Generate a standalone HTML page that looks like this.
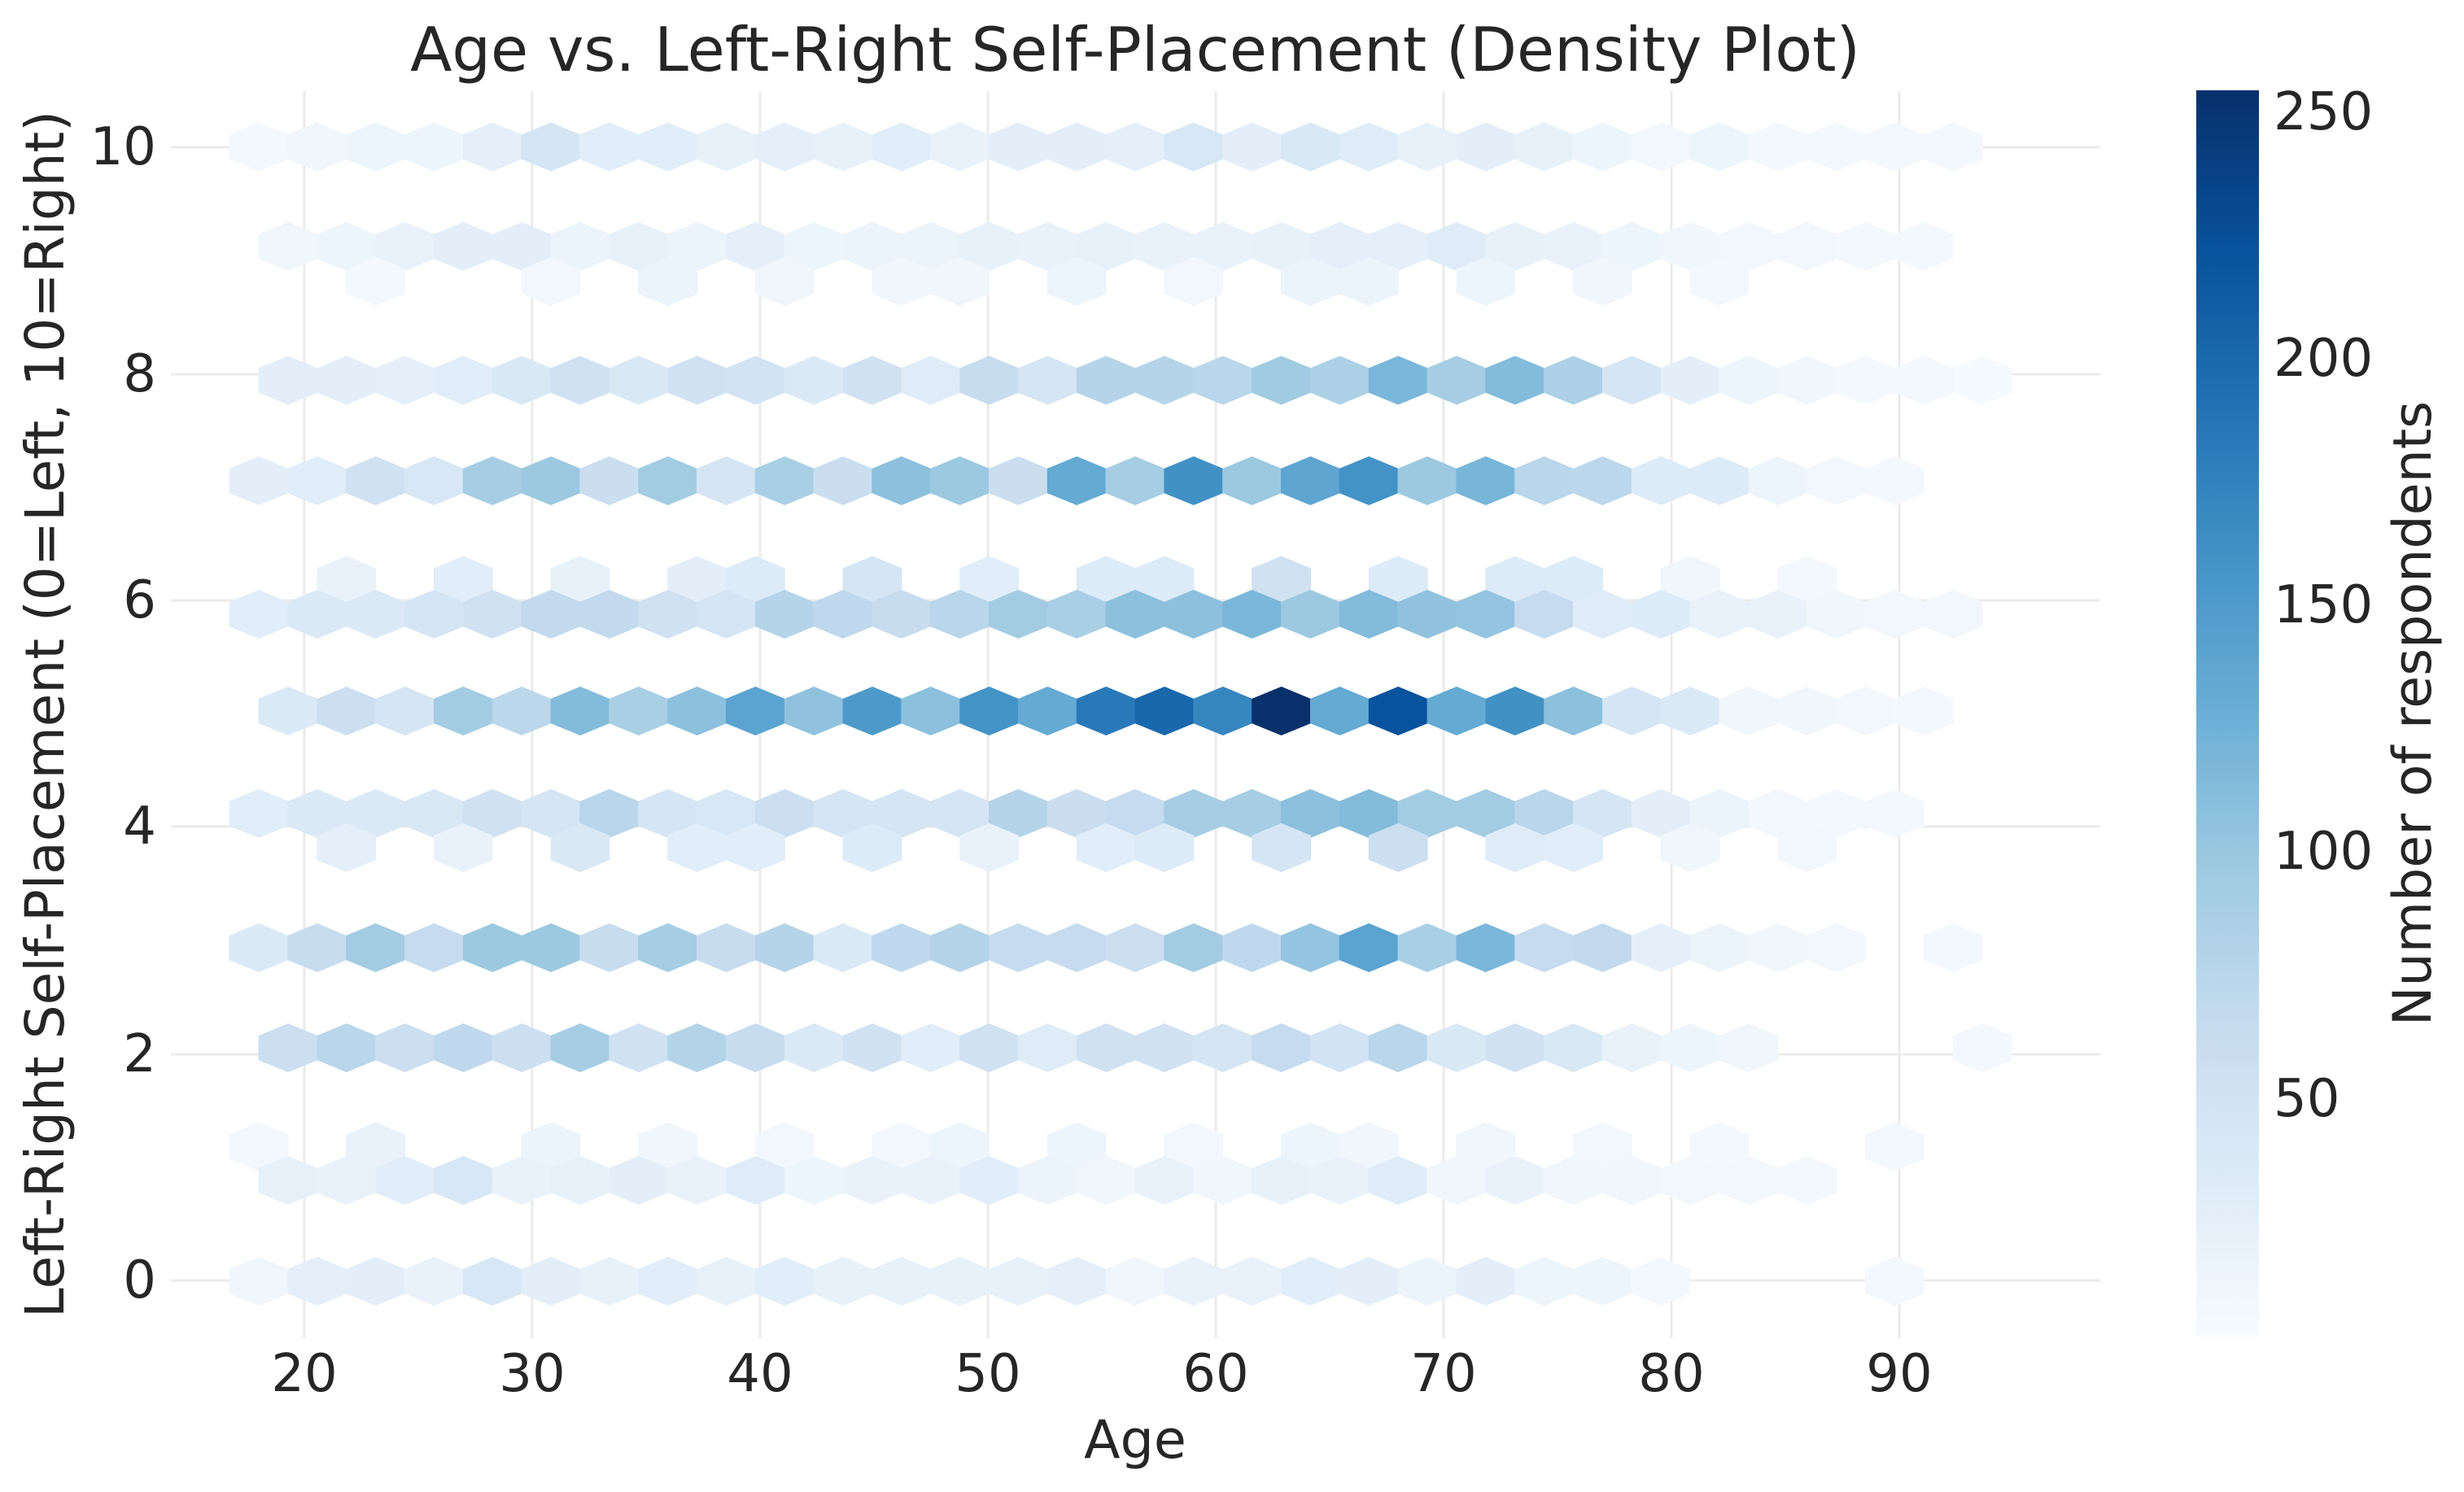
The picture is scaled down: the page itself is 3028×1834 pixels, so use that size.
<!DOCTYPE html>
<html><head><meta charset="utf-8"><style>
html,body{margin:0;padding:0;background:#fff;}
svg{display:block;}
text{font-family:"DejaVu Sans","Liberation Sans",sans-serif;fill:#262626;}
</style></head><body>
<svg id="s" width="3028" height="1834" viewBox="0 0 3028 1834" xmlns="http://www.w3.org/2000/svg">
<defs>
<linearGradient id="cb" x1="0" y1="1" x2="0" y2="0">
<stop offset="0" stop-color="#f7fbff"/><stop offset="0.125" stop-color="#deebf7"/><stop offset="0.25" stop-color="#c6dbef"/><stop offset="0.375" stop-color="#9ecae1"/><stop offset="0.5" stop-color="#6baed6"/><stop offset="0.625" stop-color="#4292c6"/><stop offset="0.75" stop-color="#2171b5"/><stop offset="0.875" stop-color="#08519c"/><stop offset="1" stop-color="#08306b"/>
</linearGradient>
</defs>
<rect width="3028" height="1834" fill="#fff"/>
<g stroke="#ebebeb" stroke-width="3">
<line x1="374" y1="112" x2="374" y2="1645"/><line x1="654" y1="112" x2="654" y2="1645"/><line x1="934" y1="112" x2="934" y2="1645"/><line x1="1214" y1="112" x2="1214" y2="1645"/><line x1="1494" y1="112" x2="1494" y2="1645"/><line x1="1774" y1="112" x2="1774" y2="1645"/><line x1="2054" y1="112" x2="2054" y2="1645"/><line x1="2334" y1="112" x2="2334" y2="1645"/>
<line x1="210" y1="181" x2="2581" y2="181"/><line x1="210" y1="460" x2="2581" y2="460"/><line x1="210" y1="738" x2="2581" y2="738"/><line x1="210" y1="1016" x2="2581" y2="1016"/><line x1="210" y1="1296" x2="2581" y2="1296"/><line x1="210" y1="1574" x2="2581" y2="1574"/>
</g>
<g id="hex"></g>
<text x="1395" y="87" font-size="75" text-anchor="middle">Age vs. Left-Right Self-Placement (Density Plot)</text>
<g font-size="64" text-anchor="end" dominant-baseline="central">
<text x="192" y="181">10</text><text x="192" y="460">8</text><text x="192" y="738">6</text><text x="192" y="1016">4</text><text x="192" y="1296">2</text><text x="192" y="1574">0</text>
</g>
<g font-size="64" text-anchor="middle">
<text x="374" y="1710">20</text><text x="654" y="1710">30</text><text x="934" y="1710">40</text><text x="1214" y="1710">50</text><text x="1494" y="1710">60</text><text x="1774" y="1710">70</text><text x="2054" y="1710">80</text><text x="2334" y="1710">90</text>
</g>
<text x="1395" y="1792" font-size="65" text-anchor="middle">Age</text>
<text transform="translate(78,878) rotate(-90)" font-size="66" text-anchor="middle">Left-Right Self-Placement (0=Left, 10=Right)</text>
<rect x="2699" y="111" width="77" height="1532" fill="url(#cb)"/>
<g font-size="64" dominant-baseline="central">
<text x="2794" y="138">250</text><text x="2794" y="441">200</text><text x="2794" y="744">150</text><text x="2794" y="1047">100</text><text x="2794" y="1351">50</text>
</g>
<text transform="translate(2987,877) rotate(-90)" font-size="65" text-anchor="middle">Number of respondents</text>
</svg>
<script>
(function(){
var stops=[[247,251,255],[222,235,247],[198,219,239],[158,202,225],[107,174,214],[66,146,198],[33,113,181],[8,81,156],[8,48,107]];
function col(t){t=Math.max(0,Math.min(100,t))/100*8;var i=Math.min(7,Math.floor(t)),f=t-i,a=stops[i],b=stops[i+1];
return 'rgb('+[0,1,2].map(function(k){return Math.round(a[k]+(b[k]-a[k])*f);}).join(',')+')';}
function seq(arr,extra){var o={};arr.forEach(function(v,i){o[i]=v;});if(extra)for(var k in extra)o[k]=extra[k];return o;}
var A=318,B=354,S=71.8;
var rows=[
[180.6,A,seq([2,4,5,5,9,17,11,11,8,9,8,11,7,10,10,9,16,10,15,12,8,10,8,5,3,5,2,2,2,2])],
[303,B,seq([4,5,7,10,10,6,8,6,9,5,6,6,8,7,8,7,7,8,9,9,12,8,7,5,4,3,3,2,2])],
[346,A,{2:2,5:3,7:6,9:4,11:4,12:4,14:5,16:3,18:6,19:6,21:5,23:4,25:2}],
[467.5,B,seq([10,10,9,11,15,20,15,20,19,14,20,12,24,17,30,30,29,37,33,46,35,44,33,17,10,5,4,2,2,1])],
[591,A,seq([10,11,20,16,35,38,23,36,17,34,23,42,38,23,52,35,63,38,54,62,38,47,29,28,13,13,5,3,2])],
[713.5,B,{1:7,3:11,5:8,7:10,8:13,10:17,12:11,14:13,15:13,17:20,19:13,21:13,22:13,24:4,26:2}],
[755,A,seq([11,14,14,17,20,26,26,20,17,30,27,24,29,36,34,42,42,46,38,44,41,40,25,12,13,7,7,4,3,3])],
[874,B,seq([14,22,17,36,28,44,34,42,55,41,59,42,62,52,72,79,67,100,52,87,52,63,42,17,14,4,4,3,2])],
[1000,A,seq([11,14,14,15,20,17,29,17,16,22,17,17,17,30,23,25,35,35,42,44,36,36,29,17,10,6,3,2,2])],
[1042,B,{1:9,3:7,5:15,7:11,8:11,10:13,12:7,14:11,15:13,17:17,19:22,21:12,22:11,24:4,26:3}],
[1165,A,seq([14,24,36,25,38,38,24,35,24,30,14,27,31,25,25,22,36,27,40,55,34,46,25,26,9,6,4,3],{29:2})],
[1288,B,seq([22,29,22,27,22,35,20,31,24,14,20,11,20,12,20,20,17,25,19,29,15,20,15,7,5,4],{29:2})],
[1409.5,A,{0:3,2:7,5:6,7:4,9:3,11:3,12:5,14:5,16:3,18:5,19:4,21:4,23:3,25:2,28:2}],
[1451,B,seq([8,7,11,16,7,8,10,7,12,5,7,7,11,6,4,7,4,8,7,12,4,7,4,4,3,3,2])],
[1575,A,seq([4,9,10,7,16,10,8,11,8,11,8,8,8,8,9,4,7,7,11,10,6,10,5,5,2],{28:2})]
];
var g=document.getElementById('hex'),ns='http://www.w3.org/2000/svg',hw=35.9,h1=29.5,h2=14.75;
rows.forEach(function(r){var y=r[0],x0=r[1],d=r[2];for(var k in d){var x=x0+S*(+k),c=col(d[k]);
var p=document.createElementNS(ns,'polygon');
p.setAttribute('points',[x,y-h1,x+hw,y-h2,x+hw,y+h2,x,y+h1,x-hw,y+h2,x-hw,y-h2].map(function(v){return v.toFixed(1);}).join(' '));
p.setAttribute('fill',c);p.setAttribute('stroke',c);p.setAttribute('stroke-width','1');g.appendChild(p);}});
})();
</script>
</body></html>
